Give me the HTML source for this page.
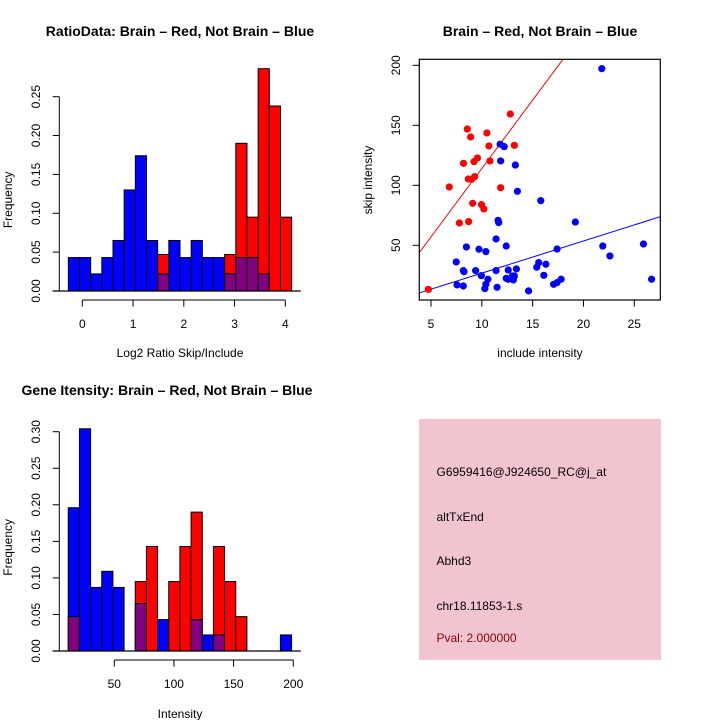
<!DOCTYPE html>
<html><head><meta charset="utf-8"><style>
html,body{margin:0;padding:0;background:#fff;}
svg{display:block;font-family:"Liberation Sans",sans-serif;}
</style></head><body>
<svg id="c" width="720" height="720" viewBox="0 0 720 720">
</svg>
<script>
// Ratio histogram data (20 bins, start -0.275, width 0.22)
const ratioStart = -0.275, ratioWidth = 0.22;
const ratioBlue = [0.043,0.043,0.022,0.043,0.065,0.13,0.174,0.065,0.022,0.065,0.043,0.065,0.043,0.043,0.022,0.043,0.043,0.022,0,0];
const ratioRed  = [0,0,0,0,0,0,0,0,0.047,0,0,0,0,0,0.047,0.19,0.095,0.286,0.238,0.095];
const ratioYTicks = ["0.00","0.05","0.10","0.15","0.20","0.25"];
const ratioXTicks = ["0","1","2","3","4"];
// Intensity histogram (20 bins, start 11.4, width 9.36)
const intStart = 11.4, intWidth = 9.36;
const intBlue = [0.196,0.304,0.087,0.109,0.087,0,0.065,0,0.043,0,0,0.043,0.022,0.022,0,0,0,0,0,0.022];
const intRed  = [0.047,0,0,0,0,0,0.095,0.143,0,0.095,0.143,0.19,0,0.143,0.095,0.047,0,0,0,0];
const intYTicks = ["0.00","0.05","0.10","0.15","0.20","0.25","0.30"];
const intXTicks = ["50","100","150","200"];
// Scatter data
const redX = [4.74,6.8,7.79,8.2,8.57,8.67,8.7,8.9,9.1,9.23,9.3,9.57,9.97,10.2,10.5,10.7,10.8,11.85,12.8,13.2,9.0];
const redY = [13.3,98.6,68.6,118.3,146.9,105.3,69.7,140.3,85,119.7,107.2,122.8,83.9,80.3,143.6,132.8,120.3,98,159.4,133.3,105];
const blueX = [7.48,7.56,8.18,8.18,8.25,8.48,9.39,9.72,9.95,10.3,10.4,10.4,10.6,11.4,11.4,11.5,11.6,11.66,11.8,11.85,12.2,12.4,12.4,12.6,12.6,13.0,13.1,13.2,13.3,13.4,13.5,14.6,15.4,15.6,15.8,16.1,16.3,17.06,17.4,17.4,17.8,19.2,21.8,21.9,22.6,25.9,26.7];
const blueY = [36.1,17,28.9,16.1,28,48.6,28.9,46.7,24.7,13.9,44.7,17.5,21.7,55.3,28.9,15,70.8,68.9,134.2,120.3,132.2,49.4,22.5,29.4,21.7,24.4,21.1,24.4,116.9,30.3,95,12,31.7,35.6,87.2,25,34.2,17.5,46.9,18.9,21.7,69.4,197.2,49.4,41.1,51.1,21.7];
const redSlope = 11.4, blueSlope = 2.68;
const scXTicks = ["5","10","15","20","25"];
const scYTicks = ["50","100","150","200"];

const svg = document.getElementById('c');
const NS = 'http://www.w3.org/2000/svg';
function mk(tag, attrs, parent){ const e=document.createElementNS(NS,tag); for(const k in attrs) e.setAttribute(k,attrs[k]); (parent||svg).appendChild(e); return e; }
function txt(s, attrs, parent){ const e=mk('text',attrs,parent); e.textContent=s; return e; }

function histogram(name, start, width, blue, red, xs, ys, yTicks, xTicks, xTickMin, title, titleX, titleY, xlab, xlabY){
  const g = mk('g',{});
  
  
  for(let i=0;i<blue.length;i++){
    const x0 = xs(start+i*width), x1 = xs(start+(i+1)*width);
    const b=blue[i], r=red[i];
    const hi=Math.max(b,r), lo=Math.min(b,r);
    if(hi>0){
      const bar = mk('rect',{x:x0,y:ys(hi),width:x1-x0,height:ys(0)-ys(hi),fill:(r>=b?'#ff0000':'#0000ff'),stroke:'#000','stroke-width':1},g);
      
      
    }
    if(lo>0){
      const ov = mk('rect',{x:x0,y:ys(lo),width:x1-x0,height:ys(0)-ys(lo),fill:'#800080',stroke:'#000','stroke-width':1},g);
      
      
    }
  }
  mk('line',{x1:52.7,x2:300.7,y1:ys(0),y2:ys(0),stroke:'#000','stroke-width':1.3},g);
  const yv = yTicks.map(Number);
  mk('line',{x1:59.3,x2:59.3,y1:ys(yv[0]),y2:ys(yv[yv.length-1]),stroke:'#000','stroke-width':1},g);
  yTicks.forEach(t=>{ const y=ys(+t); mk('line',{x1:52.7,x2:59.3,y1:y,y2:y,stroke:'#000'},g);
    const tl=txt(t,{x:0,y:0,transform:`translate(40,${y}) rotate(-90)`,'text-anchor':'middle','font-size':12},g);
      });
  const xv = xTicks.map(Number);
  const ay = ys(0)+9;
  mk('line',{x1:xs(xv[0]),x2:xs(xv[xv.length-1]),y1:ay,y2:ay,stroke:'#000'},g);
  xTicks.forEach(t=>{ const x=xs(+t); mk('line',{x1:x,x2:x,y1:ay,y2:ay+6.6,stroke:'#000'},g);
    const tl=txt(t,{x:x,y:ay+28,'text-anchor':'middle','font-size':12},g);
      });
  const yt = txt('Frequency',{x:0,y:0,transform:`translate(12,${(ys(0)+ys(yv[yv.length-1]))/2+6}) rotate(-90)`,'text-anchor':'middle','font-size':12},g);
   
  const xt = txt(xlab,{x:180,y:xlabY,'text-anchor':'middle','font-size':12},g);
   
  const tt = txt(title,{x:titleX,y:titleY,'text-anchor':'middle','font-size':14,'font-weight':'bold'},g);
   
}

histogram('ratio-histogram', ratioStart, ratioWidth, ratioBlue, ratioRed,
  v=>82.3+v*50.75, v=>291-v*777.3, ratioYTicks, ratioXTicks, 0,
  'RatioData: Brain \u2013 Red, Not Brain \u2013 Blue', 180, 36, 'Log2 Ratio Skip/Include', 357);
histogram('intensity-histogram', intStart, intWidth, intBlue, intRed,
  v=>114.3+(v-50)*1.193, v=>651-v*731, intYTicks, intXTicks, 50,
  'Gene Itensity: Brain \u2013 Red, Not Brain \u2013 Blue', 167, 395, 'Intensity', 718);

(function(){
  const sx = v=>431+(v-5)*10.165, sy = v=>245.3-(v-50)*1.2;
  const g = mk('g',{});
  
  
  const defs = mk('clipPath',{id:'clipS'},g); mk('rect',{x:419.3,y:59.3,width:241,height:240.7},defs);
  const lg = mk('g',{'clip-path':'url(#clipS)'},g);
  const xa=3.5, xb=28;
  const rl = mk('line',{x1:sx(xa),y1:sy(redSlope*xa),x2:sx(xb),y2:sy(redSlope*xb),stroke:'#ff0000','stroke-width':1},lg);
   
  const bl = mk('line',{x1:sx(xa),y1:sy(blueSlope*xa),x2:sx(xb),y2:sy(blueSlope*xb),stroke:'#0000ff','stroke-width':1},lg);
   
  redX.forEach((x,i)=>{ const p=mk('circle',{cx:sx(x),cy:sy(redY[i]),r:3.6,fill:'#ff0000'},lg);
      });
  blueX.forEach((x,i)=>{ const p=mk('circle',{cx:sx(x),cy:sy(blueY[i]),r:3.6,fill:'#0000ff'},lg);
      });
  mk('rect',{x:419.3,y:59.3,width:241,height:240.7,fill:'none',stroke:'#000','stroke-width':1.2},g);
  scYTicks.forEach(t=>{ const y=sy(+t); mk('line',{x1:412.7,x2:419.3,y1:y,y2:y,stroke:'#000'},g);
    const tl=txt(t,{x:0,y:0,transform:`translate(400,${y}) rotate(-90)`,'text-anchor':'middle','font-size':12},g);
      });
  scXTicks.forEach(t=>{ const x=sx(+t); mk('line',{x1:x,x2:x,y1:300,y2:306.6,stroke:'#000'},g);
    const tl=txt(t,{x:x,y:328,'text-anchor':'middle','font-size':12},g);
      });
  const xt=txt('include intensity',{x:540,y:357,'text-anchor':'middle','font-size':12},g);
   
  const yt=txt('skip intensity',{x:0,y:0,transform:'translate(372,180) rotate(-90)','text-anchor':'middle','font-size':12},g);
   
  const tt=txt('Brain \u2013 Red, Not Brain \u2013 Blue',{x:540,y:36,'text-anchor':'middle','font-size':14,'font-weight':'bold'},g);
   
})();

(function(){
  const g = mk('g',{});
  
  
  mk('rect',{x:419,y:419,width:242,height:241,fill:'#f2c4cf'},g);
  const lines=[['G6959416@J924650_RC@j_at',476,'#000'],['altTxEnd',521,'#000'],['Abhd3',565,'#000'],['chr18.11853-1.s',610,'#000'],['Pval: 2.000000',642,'#8b0000']];
  lines.forEach(l=>{ const t=txt(l[0],{x:436.5,y:l[1],'font-size':12,fill:l[2]},g);
      });
})();
</script>
</body></html>
